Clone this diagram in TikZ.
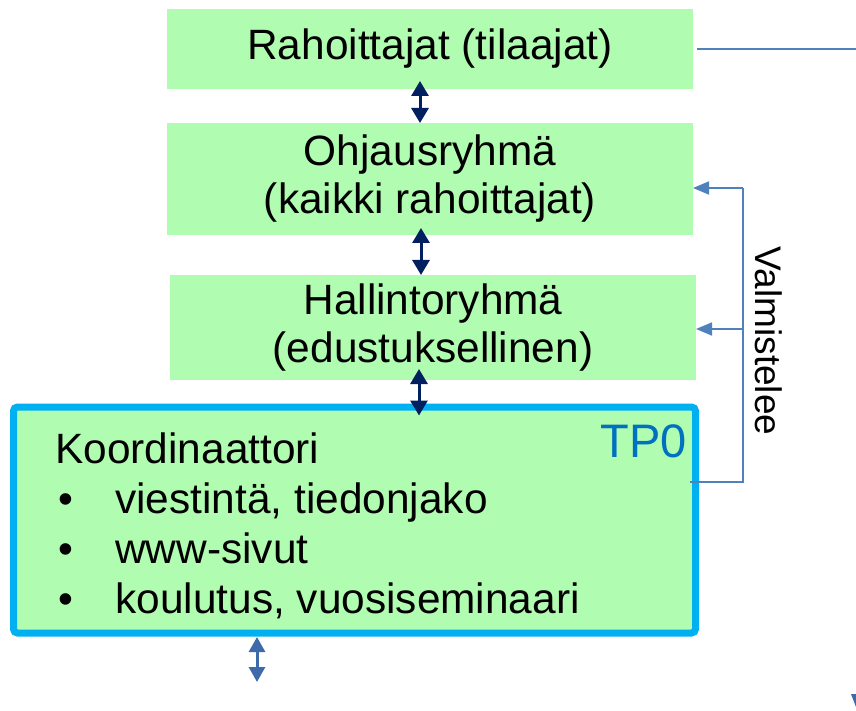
\documentclass[tikz,border=0pt]{standalone}
\usepackage{fontspec}
\setmainfont{Liberation Sans}
\usetikzlibrary{arrows.meta}
\definecolor{grpgreen}{RGB}{176,252,176}
\definecolor{tpframe}{RGB}{0,176,240}
\definecolor{tptext}{RGB}{0,112,192}
\definecolor{navyarr}{RGB}{0,32,96}
\definecolor{steelarr}{RGB}{62,106,170}
\definecolor{linkblue}{RGB}{79,129,189}
\begin{document}
\begin{tikzpicture}[x=0.5pt,y=-0.5pt,
    font=\fontsize{21.2}{24}\selectfont,
    grp/.style={fill=grpgreen, inner sep=0pt, outer sep=0pt, align=center},
    navydbl/.style={{Triangle[width=8.5pt,length=7.5pt]}-{Triangle[width=8.5pt,length=7.5pt]},
      line width=1.5pt, draw=navyarr, fill=navyarr},
    steeldbl/.style={{Triangle[width=8pt,length=7.5pt]}-{Triangle[width=8pt,length=7.5pt]},
      line width=1.5pt, draw=steelarr, fill=steelarr},
    link/.style={draw=linkblue, line width=0.9pt}]
  \useasboundingbox (0,0) rectangle (856,711);
  % groups
  \node[grp, minimum width=263pt, minimum height=40pt] (rah) at (430,49)
    {Rahoittajat (tilaajat)};
  \node[grp, minimum width=263pt, minimum height=56pt] (ohj) at (430,179)
    {Ohjausryhmä\\(kaikki rahoittajat)};
  \node[grp, minimum width=263pt, minimum height=52.5pt] (hal) at (433,327.5)
    {Hallintoryhmä\\(edustuksellinen)};
  \node[grp, draw=tpframe, line width=3.5pt, rounded corners=2pt,
    minimum width=341pt, minimum height=113pt] (koord) at (354.5,520) {};
  \node[anchor=base west, inner sep=0pt] (kname) at (55,463) {Koordinaattori};
  \foreach \y/\t in {513/{viestintä, tiedonjako},563/{www-sivut},
      613/{koulutus, vuosiseminaari}} {
    \node[anchor=base west, inner sep=0pt] (item\y) at (58,\y)
      {\makebox[28.5pt][l]{\textbullet}\t};
  }
  \node[anchor=base east, inner sep=0pt, text=tptext,
    font=\fontsize{23.5}{26}\selectfont] (tp0) at (687,457) {TP0};
  % arrows between groups
  \draw[navydbl] ([xshift=-5pt,yshift=4pt]rah.south) -- ([xshift=-5pt]ohj.north);
  \draw[navydbl] ([xshift=-4.5pt,yshift=3.5pt]ohj.south) -- ([xshift=-6pt]hal.north);
  \draw[navydbl] ([xshift=-7pt,yshift=5.5pt]hal.south)
    -- ([xshift=-7pt,yshift=-4.25pt]hal.south |- koord.north);
  \coordinate (down) at (257,682);
  \draw[steeldbl] ([yshift=-2pt]down |- koord.south) -- (down);
  % valmistelee bracket
  \coordinate (vtop) at (743,188);
  \coordinate (vmid) at (743,329);
  \coordinate (vbot) at (743,482);
  \draw[link] ([xshift=-3pt]koord.east |- vbot) -- (vbot) -- (vtop);
  \draw[link, -{Triangle[width=6.5pt,length=8pt]}] (vtop) -- (vtop -| ohj.east);
  \draw[link, -{Triangle[width=6.5pt,length=8pt]}] (vmid) -- (vmid -| hal.east);
  \node[rotate=-90, font=\fontsize{18.5}{20}\selectfont] (valm) at (769,341) {Valmistelee};
  \coordinate (topend) at (856,49);
  \draw[link, line width=0.6pt] ([xshift=2pt]rah.east) -- (topend);
  \fill[steelarr] (851,694) -- (858,694) -- (856,707) -- cycle;
\end{tikzpicture}
\end{document}
